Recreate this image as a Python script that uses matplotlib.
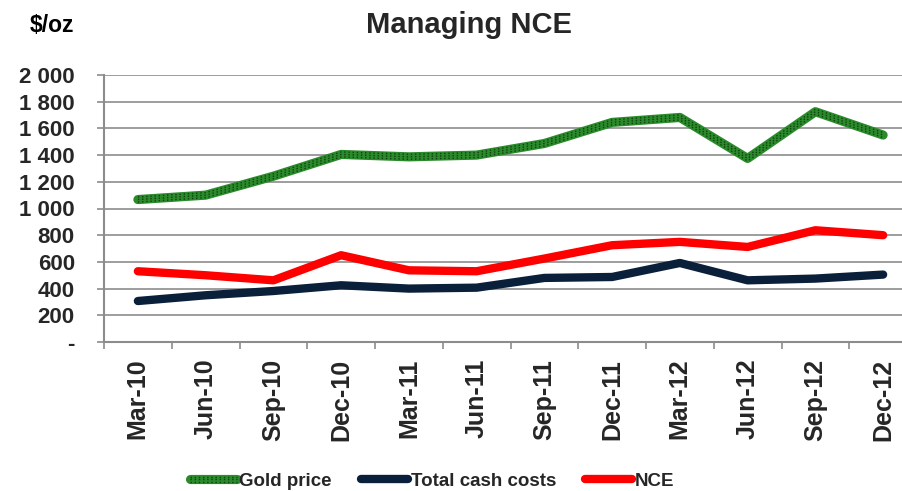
import matplotlib
matplotlib.use("Agg")
import matplotlib.pyplot as plt
import matplotlib.patheffects as pe
from matplotlib.ticker import FixedLocator, FuncFormatter
from matplotlib.legend_handler import HandlerTuple

plt.rcParams['font.family'] = ['Liberation Sans', 'DejaVu Sans']

categories = ["Mar-10", "Jun-10", "Sep-10", "Dec-10", "Mar-11", "Jun-11",
              "Sep-11", "Dec-11", "Mar-12", "Jun-12", "Sep-12", "Dec-12"]
gold_price = [1067, 1100, 1242, 1405, 1387, 1400, 1487, 1645, 1682, 1375, 1725, 1550]
total_cash_costs = [307, 350, 382, 425, 400, 407, 480, 487, 592, 462, 475, 505]
nce = [530, 500, 462, 650, 537, 530, 625, 725, 750, 712, 837, 800]
y_ticks = [0, 200, 400, 600, 800, 1000, 1200, 1400, 1600, 1800, 2000]

W, H = 902, 491
fig = plt.figure(figsize=(W / 100, H / 100), dpi=100)
ax = fig.add_axes([104 / W, 1 - 342 / H, (917 - 104) / W, (342 - 75) / H])

x = list(range(len(categories)))
text_col = '#262626'
grid_col = '#8c8c8c'

# Gold price: textured green line
g_base, = ax.plot(x, gold_price, color='#2b8a2b', lw=6.6,
                  solid_capstyle='round', solid_joinstyle='round', zorder=3)
g_dots, = ax.plot(x, gold_price, color='#0d420d', lw=1.0,
                  linestyle=(0, (1, 2)), zorder=4,
                  path_effects=[pe.Stroke(offset=(0, 1.8)),
                                pe.Stroke(offset=(0, -1.8)),
                                pe.Normal()])
l_cash, = ax.plot(x, total_cash_costs, color='#0a1f3a', lw=6.0,
                  solid_capstyle='round', solid_joinstyle='round', zorder=3)
l_nce, = ax.plot(x, nce, color='#ff0000', lw=6.0,
                 solid_capstyle='round', solid_joinstyle='round', zorder=3)

ax.set_xlim(-0.5, len(categories) - 0.5)
ax.set_ylim(0, 2000)
ax.set_yticks(y_ticks)
ax.yaxis.set_major_formatter(FuncFormatter(
    lambda v, p: '-' if v == 0 else f"{int(v):,}".replace(',', ' ')))
ax.grid(axis='y', color=grid_col, lw=1.2, zorder=0)
ax.set_axisbelow(True)

ax.set_xticks(x)
ax.set_xticklabels(categories, rotation=90, fontsize=18, fontweight='bold',
                   color=text_col)
ax.xaxis.set_minor_locator(FixedLocator([i - 0.5 for i in range(len(categories) + 1)]))
ax.tick_params(axis='x', which='major', length=0, pad=12)
ax.tick_params(axis='x', which='minor', length=5, width=1.2, color=grid_col, direction='out')
ax.tick_params(axis='y', length=5, width=1.2, color=grid_col, pad=16,
               labelsize=16, labelcolor=text_col)
for lab in ax.get_yticklabels():
    lab.set_fontweight('bold')

for s in ['top', 'right']:
    ax.spines[s].set_visible(False)
for s in ['left', 'bottom']:
    ax.spines[s].set_color(grid_col)
    ax.spines[s].set_linewidth(1.5)

fig.text(469 / W, 1 - 25 / H, 'Managing NCE', ha='center', va='center',
         fontsize=21, fontweight='bold', color=text_col)
fig.text(30 / W, 1 - 26 / H, '$/oz', ha='left', va='center',
         fontsize=16.5, fontweight='bold', color='black')

leg = fig.legend([(g_base, g_dots), l_cash, l_nce],
                 ['Gold price', 'Total cash costs', 'NCE'],
                 handler_map={tuple: HandlerTuple(ndivide=1)},
                 loc='center', bbox_to_anchor=(432 / W, 1 - 481 / H), ncol=3,
                 frameon=False, handlelength=2.5, handletextpad=0.15,
                 columnspacing=1.55, borderpad=0.2,
                 prop={'weight': 'bold', 'size': 13.5})
for t in leg.get_texts():
    t.set_color(text_col)

fig.savefig('out.png', dpi=100)
